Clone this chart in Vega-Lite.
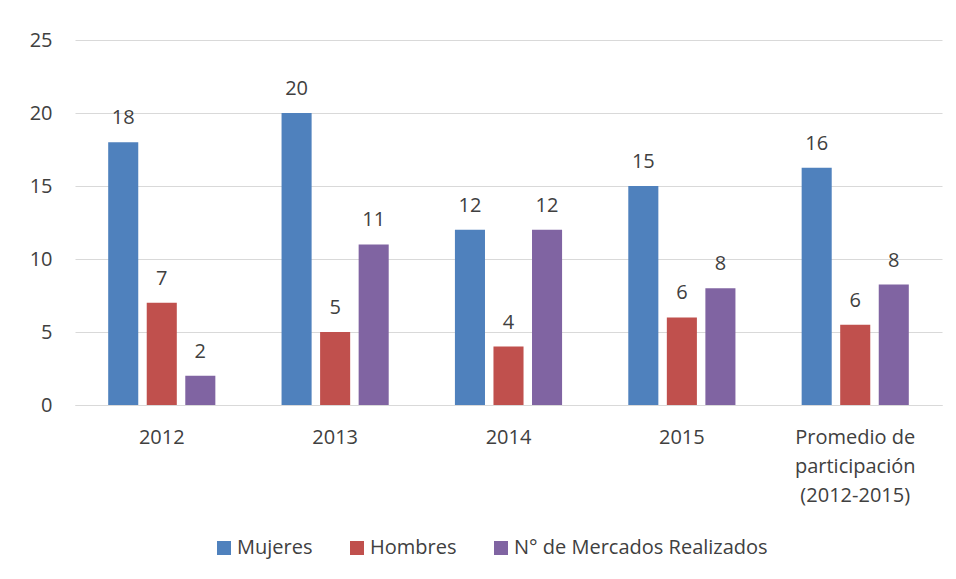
{
  "$schema": "https://vega.github.io/schema/vega-lite/v6.json",
  "width": 867,
  "height": 365,
  "autosize": {"type": "none"},
  "padding": {"left": 75, "top": 40, "right": 14, "bottom": 174},
  "background": "#ffffff",
  "config": {
    "font": "Open Sans",
    "view": {"stroke": null},
    "axis": {"labelFont": "Open Sans", "labelFontSize": 20, "labelColor": "#404040"},
    "legend": {"labelFont": "Open Sans", "labelFontSize": 20, "labelColor": "#404040"}
  },
  "data": {
    "values": [
      {"cat": "2012", "serie": "Mujeres", "valor": 18},
      {"cat": "2012", "serie": "Hombres", "valor": 7},
      {"cat": "2012", "serie": "N° de Mercados Realizados", "valor": 2},
      {"cat": "2013", "serie": "Mujeres", "valor": 20},
      {"cat": "2013", "serie": "Hombres", "valor": 5},
      {"cat": "2013", "serie": "N° de Mercados Realizados", "valor": 11},
      {"cat": "2014", "serie": "Mujeres", "valor": 12},
      {"cat": "2014", "serie": "Hombres", "valor": 4},
      {"cat": "2014", "serie": "N° de Mercados Realizados", "valor": 12},
      {"cat": "2015", "serie": "Mujeres", "valor": 15},
      {"cat": "2015", "serie": "Hombres", "valor": 6},
      {"cat": "2015", "serie": "N° de Mercados Realizados", "valor": 8},
      {"cat": "Promedio de participación (2012-2015)", "serie": "Mujeres", "valor": 16.25},
      {"cat": "Promedio de participación (2012-2015)", "serie": "Hombres", "valor": 5.5},
      {"cat": "Promedio de participación (2012-2015)", "serie": "N° de Mercados Realizados", "valor": 8.25}
    ]
  },
  "encoding": {
    "x": {
      "field": "cat",
      "type": "nominal",
      "sort": null,
      "title": null,
      "scale": {"paddingInner": 0.333, "paddingOuter": 0.167},
      "axis": {
        "labelAngle": 0,
        "ticks": false,
        "domainColor": "#d9d9d9",
        "domainWidth": 1,
        "labelPadding": 22,
        "labelLineHeight": 29,
        "labelLimit": 0,
        "labelExpr": "datum.label == 'Promedio de participación (2012-2015)' ? ['Promedio de', 'participación', '(2012-2015)'] : datum.label"
      }
    },
    "xOffset": {
      "field": "serie",
      "type": "nominal",
      "sort": ["Mujeres", "Hombres", "N° de Mercados Realizados"],
      "scale": {"paddingInner": 0.22, "paddingOuter": 0.11}
    },
    "y": {
      "field": "valor",
      "type": "quantitative",
      "title": null,
      "scale": {"domain": [0, 25]},
      "axis": {
        "values": [0, 5, 10, 15, 20, 25],
        "ticks": false,
        "domain": false,
        "gridColor": "#d9d9d9",
        "gridWidth": 1,
        "labelPadding": 23
      }
    }
  },
  "layer": [
    {
      "mark": {"type": "bar"},
      "encoding": {
        "color": {
          "field": "serie",
          "type": "nominal",
          "title": null,
          "sort": ["Mujeres", "Hombres", "N° de Mercados Realizados"],
          "scale": {
            "domain": ["Mujeres", "Hombres", "N° de Mercados Realizados"],
            "range": ["#4f81bd", "#c0504d", "#8064a2"]
          },
          "legend": {
            "orient": "none",
            "legendX": 139,
            "legendY": 498,
            "padding": 0,
            "direction": "horizontal",
            "symbolType": "square",
            "symbolSize": 196,
            "symbolStrokeWidth": 0,
            "symbolOpacity": 1,
            "columnPadding": 34,
            "labelOffset": 3,
            "labelLimit": 0
          }
        }
      }
    },
    {
      "mark": {"type": "text", "baseline": "alphabetic", "dy": -18, "fontSize": 20, "color": "#404040", "font": "Open Sans"},
      "encoding": {
        "text": {"field": "valor", "type": "quantitative", "format": ".0f"}
      }
    }
  ]
}
